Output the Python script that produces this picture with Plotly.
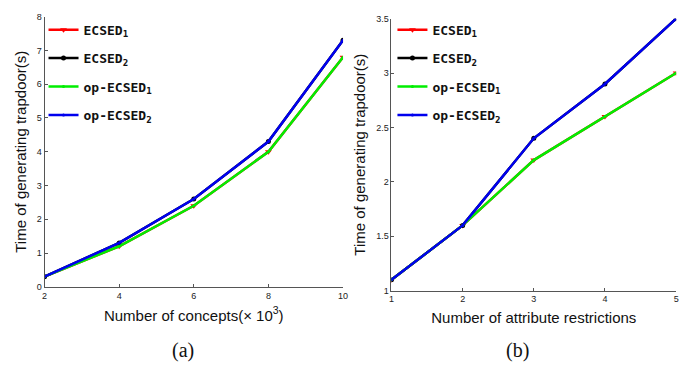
import plotly.graph_objects as go

# Data
concepts = [2, 4, 6, 8, 10]
a_ecsed1 = [0.3, 1.2, 2.4, 4.0, 6.8]
a_ecsed2 = [0.3, 1.3, 2.6, 4.3, 7.3]
a_op_ecsed1 = [0.3, 1.2, 2.4, 4.0, 6.8]
a_op_ecsed2 = [0.3, 1.3, 2.6, 4.3, 7.3]

restrictions = [1, 2, 3, 4, 5]
b_ecsed1 = [1.1, 1.6, 2.2, 2.6, 3.0]
b_ecsed2 = [1.1, 1.6, 2.4, 2.9, 3.5]
b_op_ecsed1 = [1.1, 1.6, 2.2, 2.6, 3.0]
b_op_ecsed2 = [1.1, 1.6, 2.4, 2.9, 3.5]

names = ["ECSED<sub>1</sub>", "ECSED<sub>2</sub>", "op-ECSED<sub>1</sub>", "op-ECSED<sub>2</sub>"]
colors = ["#ff0000", "#000000", "#00ee00", "#0000ee"]
symbols = ["triangle-down", "circle", "circle", "circle"]
msizes = [6, 5, 3, 3]

W, H = 692, 375
fig = go.Figure()

def add_series(xs, ys_list, xa, ya, legend, tag):
    for i, ys in enumerate(ys_list):
        fig.add_trace(go.Scatter(
            x=xs, y=ys, mode="lines+markers", name=names[i],
            line=dict(color=colors[i], width=2.5),
            marker=dict(symbol=symbols[i], size=msizes[i], color=colors[i]),
            xaxis=xa, yaxis=ya, legend=legend, legendgroup=f"{tag}{i}"))

add_series(concepts, [a_ecsed1, a_ecsed2, a_op_ecsed1, a_op_ecsed2], "x", "y", "legend", "a")
add_series(restrictions, [b_ecsed1, b_ecsed2, b_op_ecsed1, b_op_ecsed2], "x2", "y2", "legend2", "b")

axis_common = dict(showline=True, linecolor="#555555", linewidth=1, ticks="inside",
                   ticklen=3, tickcolor="#555555", showgrid=False, zeroline=False,
                   tickfont=dict(family="Liberation Sans, Arial", size=9, color="#222222"),
                   mirror=False)
title_font = dict(family="Liberation Sans, Arial", size=15, color="#111111")
legend_font = dict(family="DejaVu Sans Mono, Liberation Mono, monospace", size=13,
                   color="#111111", weight="bold")

fig.update_layout(
    width=W, height=H, margin=dict(l=0, r=0, t=0, b=0),
    paper_bgcolor="white", plot_bgcolor="white",
    showlegend=True,
    xaxis=dict(domain=[42/W, 344/W], range=[2, 10], tickvals=concepts, anchor="y",
               title=dict(text="Number of concepts(× 10<sup>3</sup>)", font=title_font, standoff=10),
               **axis_common),
    yaxis=dict(domain=[1-289.5/H, 1-12/H], range=[0, 8], dtick=1, anchor="x",
               title=dict(text="Time of generating trapdoor(s)", font=title_font, standoff=6),
               **axis_common),
    xaxis2=dict(domain=[393/W, 681/W], range=[1, 5], tickvals=restrictions, anchor="y2",
                title=dict(text="Number of attribute restrictions", font=title_font, standoff=9),
                **axis_common),
    yaxis2=dict(domain=[1-293.5/H, 1-14/H], range=[1, 3.5], dtick=0.5, anchor="x2",
                title=dict(text="Time of generating trapdoor(s)", font=title_font, standoff=6),
                **axis_common),
    legend=dict(x=41/W, y=1-10/H, xanchor="left", yanchor="top", bgcolor="rgba(0,0,0,0)",
                font=legend_font, itemwidth=30, tracegroupgap=8.5),
    legend2=dict(x=394/W, y=1-10/H, xanchor="left", yanchor="top", bgcolor="rgba(0,0,0,0)",
                 font=legend_font, itemwidth=30, tracegroupgap=8.5),
    annotations=[
        dict(text="(a)", x=182/W, y=1-355/H, xref="paper", yref="paper", showarrow=False,
             yanchor="middle", xanchor="center",
             font=dict(family="Liberation Serif, DejaVu Serif", size=20, color="#111111")),
        dict(text="(b)", x=521/W, y=1-355/H, xref="paper", yref="paper", showarrow=False,
             yanchor="middle", xanchor="center",
             font=dict(family="Liberation Serif, DejaVu Serif", size=20, color="#111111")),
    ],
)

fig.write_html("out.html")
